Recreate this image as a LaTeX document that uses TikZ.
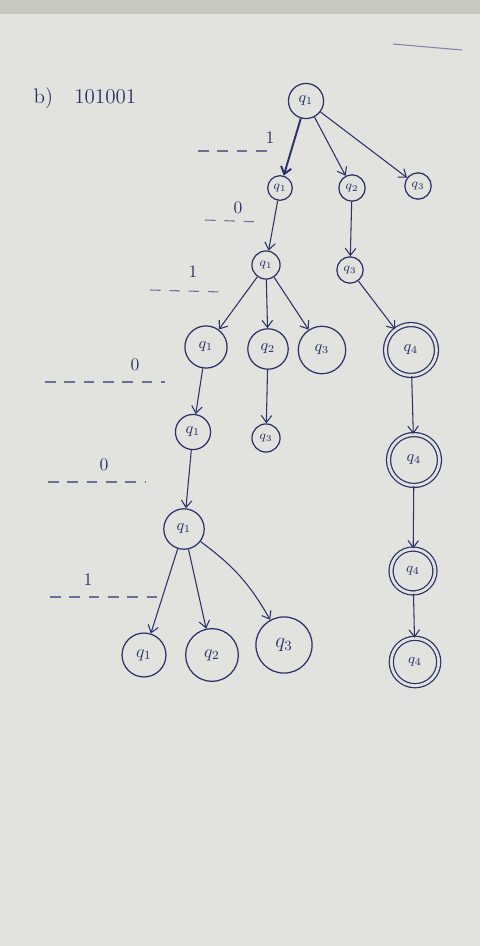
\documentclass[tikz,border=0pt]{standalone}
\usetikzlibrary{arrows.meta}
\definecolor{paper}{RGB}{226,226,222}
\definecolor{paperdark}{RGB}{200,200,192}
\definecolor{ink}{RGB}{42,50,105}
\begin{document}
\begin{tikzpicture}[x=0.02cm,y=-0.02cm,
  st/.style={circle,draw=ink,line width=0.7pt,inner sep=0pt,text=ink},
  acc/.style={st,double=paper,double distance=1.6pt},
  ed/.style={draw=ink,line width=0.6pt,-{Straight Barb[length=4pt,width=6pt]}},
  lvl/.style={draw=ink!70,line width=0.6pt,dash pattern=on 6pt off 5pt},
  sym/.style={text=ink,font=\normalsize}]
\useasboundingbox (0,0) rectangle (480,946);
\fill[paper] (0,0) rectangle (480,946);
\fill[paperdark] (0,0) rectangle (480,14);
\draw[ink!60,line width=0.6pt] (393,44) -- (462,50);
% title
\node[sym,font=\large] (title) at (85,98) {b)\quad 101001};
% nodes
\node[st,minimum size=20pt,font=\small] (r) at (306,101) {$q_1$};
\node[st,minimum size=14pt,font=\scriptsize] (a) at (280,188) {$q_1$};
\node[st,minimum size=15pt,font=\scriptsize] (b) at (352,188) {$q_2$};
\node[st,minimum size=15pt,font=\scriptsize] (c) at (418,186) {$q_3$};
\node[st,minimum size=16pt,font=\scriptsize] (d) at (266,265) {$q_1$};
\node[st,minimum size=15pt,font=\scriptsize] (e) at (350,270) {$q_3$};
\node[st,minimum size=24pt,font=\small] (f) at (206,347) {$q_1$};
\node[st,minimum size=23pt,font=\small] (g) at (268,349) {$q_2$};
\node[st,minimum size=27pt,font=\small] (h) at (322,350) {$q_3$};
\node[acc,minimum size=29pt,font=\small] (i) at (411,350) {$q_4$};
\node[st,minimum size=20pt,font=\small] (j) at (193,432) {$q_1$};
\node[st,minimum size=16pt,font=\scriptsize] (k) at (266,438) {$q_3$};
\node[acc,minimum size=29pt,font=\small] (l) at (414,460) {$q_4$};
\node[st,minimum size=23pt,font=\small] (m) at (184,529) {$q_1$};
\node[acc,minimum size=25pt,font=\footnotesize] (n) at (413,571) {$q_4$};
\node[st,minimum size=25pt,font=\normalsize] (o) at (144,655) {$q_1$};
\node[st,minimum size=30pt,font=\normalsize] (p) at (212,655) {$q_2$};
\node[st,minimum size=32pt,font=\large] (q) at (284,645) {$q_3$};
\node[acc,minimum size=27pt,font=\footnotesize] (s) at (415,662) {$q_4$};
% edges
\draw[ed,line width=1.1pt] (r) -- (a);
\draw[ed] (r) -- (b);
\draw[ed] (r) -- (c);
\draw[ed] (a) -- (d);
\draw[ed] (b) -- (e);
\draw[ed] (d) -- (f);
\draw[ed] (d) -- (g);
\draw[ed] (d) -- (h);
\draw[ed] (e) -- (i);
\draw[ed] (f) -- (j);
\draw[ed] (g) -- (k);
\draw[ed] (j) -- (m);
\draw[ed] (m) -- (o);
\draw[ed] (m) -- (p);
\draw[ed] (m) to[bend left=12] (q);
\draw[ed] (i) -- (l);
\draw[ed] (l) -- (n);
\draw[ed] (n) -- (s);
% input symbols and level lines
\coordinate (l1a) at (198,151); \coordinate (l1b) at (272,151);
\draw[lvl] (l1a) -- (l1b);
\node[sym] (s1) at (270,138) {1};
\coordinate (l2a) at (205,220); \coordinate (l2b) at (262,222);
\draw[lvl] (l2a) -- (l2b);
\node[sym] (s2) at (238,208) {0};
\coordinate (l3a) at (150,290); \coordinate (l3b) at (222,292);
\draw[lvl] (l3a) -- (l3b);
\node[sym] (s3) at (193,272) {1};
\coordinate (l4a) at (45,382); \coordinate (l4b) at (165,382);
\draw[lvl] (l4a) -- (l4b);
\node[sym] (s4) at (135,365) {0};
\coordinate (l5a) at (48,482); \coordinate (l5b) at (145,482);
\draw[lvl] (l5a) -- (l5b);
\node[sym] (s5) at (104,465) {0};
\coordinate (l6a) at (50,597); \coordinate (l6b) at (160,597);
\draw[lvl] (l6a) -- (l6b);
\node[sym] (s6) at (88,580) {1};
\end{tikzpicture}
\end{document}
